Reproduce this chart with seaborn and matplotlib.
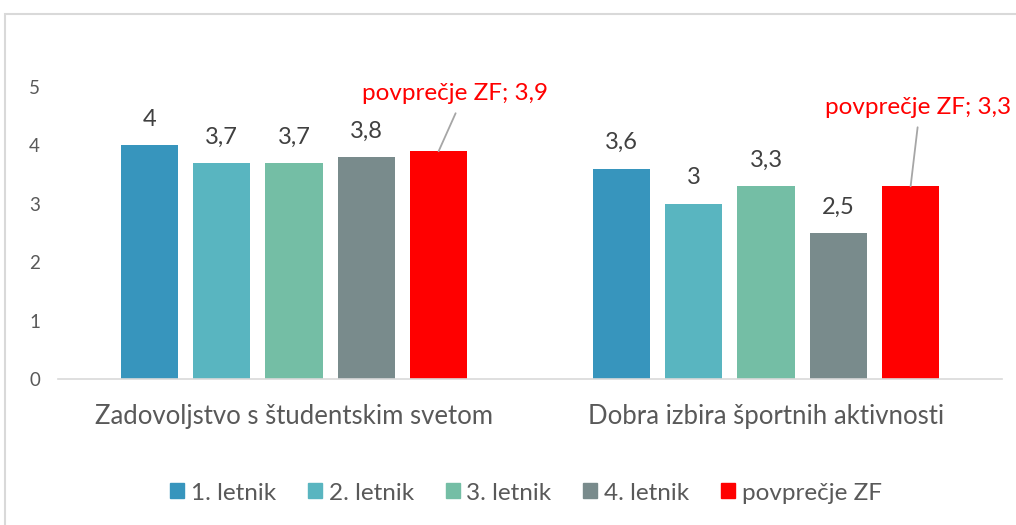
import matplotlib
matplotlib.use("Agg")
import matplotlib.pyplot as plt
import seaborn as sns
import pandas as pd
from matplotlib.patches import Rectangle

categories = ["Zadovoljstvo s študentskim svetom", "Dobra izbira športnih aktivnosti"]
series = ["1. letnik", "2. letnik", "3. letnik", "4. letnik", "povprečje ZF"]
values = {
    "1. letnik": [4.0, 3.6],
    "2. letnik": [3.7, 3.0],
    "3. letnik": [3.7, 3.3],
    "4. letnik": [3.8, 2.5],
    "povprečje ZF": [3.9, 3.3],
}
colors = ["#3795BD", "#59B5C0", "#74BEA5", "#798B8C", "#FF0000"]
yticks = [0, 1, 2, 3, 4, 5]

rows = []
for s in series:
    for c, v in zip(categories, values[s]):
        rows.append({"kategorija": c, "serija": s, "vrednost": v})
df = pd.DataFrame(rows)

sns.set_theme(style="white")
plt.rcParams["font.family"] = ["Lato", "DejaVu Sans"]

fig = plt.figure(figsize=(10.16, 5.25), dpi=100)
ax = fig.add_axes([58 / 1016, 146 / 525, 944 / 1016, 292 / 525])

sns.barplot(data=df, x="kategorija", y="vrednost", hue="serija",
            hue_order=series, order=categories, palette=colors,
            width=0.766, ax=ax, legend=True, errorbar=None, saturation=1)

# shrink bar widths inside slot
for p in ax.patches:
    w = p.get_width()
    nw = w * 0.79
    p.set_x(p.get_x() + (w - nw) / 2)
    p.set_width(nw)
    p.set_edgecolor("none")

ax.set_ylim(0, 5)
ax.set_xlim(-0.5, 1.5)
ax.set_yticks(yticks)
ax.set_yticklabels([str(t) for t in yticks], color="#595959", fontsize=13.5)
ax.tick_params(axis="y", length=0, pad=13)
ax.tick_params(axis="x", length=0, pad=18)
ax.set_xticks(range(len(categories)))
ax.set_xticklabels(categories, fontsize=18.5, color="#595959")
ax.set_xlabel("")
ax.set_ylabel("")
for sp in ["top", "right", "left"]:
    ax.spines[sp].set_visible(False)
ax.spines["bottom"].set_color("#D9D9D9")
ax.spines["bottom"].set_linewidth(1.2)

# data labels
containers = ax.containers
for si, cont in enumerate(containers[:4]):
    for bar, v in zip(cont, values[series[si]]):
        txt = ("%g" % v).replace(".", ",")
        ax.annotate(txt, (bar.get_x() + bar.get_width() / 2, v),
                    xytext=(0, 26), textcoords="offset pixels",
                    ha="center", va="center", fontsize=17, color="#404040")

# red callouts
red = containers[4]
offsets = [((17, 38), (16.5, 58)), ((7, 59), (7.5, 79))]
for bar, v, (lineoff, textoff) in zip(red, values["povprečje ZF"], offsets):
    bx = bar.get_x() + bar.get_width() / 2
    txt = "povprečje ZF; " + ("%g" % v).replace(".", ",")
    ax.annotate("", xy=(bx, v), xytext=lineoff,
                textcoords="offset pixels",
                arrowprops=dict(arrowstyle="-", color="#A6A6A6", lw=1.3,
                                shrinkA=0, shrinkB=0),
                annotation_clip=False)
    ax.annotate(txt, (bx, v), xytext=textoff, textcoords="offset pixels",
                ha="center", va="center", fontsize=17.5, color="#FF0000",
                annotation_clip=False)

# legend
ax.legend_.remove()
handles = [Rectangle((0, 0), 1, 1, color=c) for c in colors]
fig.legend(handles, series, loc="center", bbox_to_anchor=(526 / 1016, 1 - 493 / 525),
           ncol=5, frameon=False, fontsize=17.5, handlelength=0.58, handleheight=0.58,
           handletextpad=0.28, columnspacing=1.3, labelcolor="#595959")

# outer frame
fig.patches.append(Rectangle((5 / 1016, -0.1), 1.2, 1 - 14 / 525 + 0.1,
                             transform=fig.transFigure, fill=False,
                             edgecolor="#D9D9D9", lw=1.5))

fig.savefig("out.png", dpi=100)
